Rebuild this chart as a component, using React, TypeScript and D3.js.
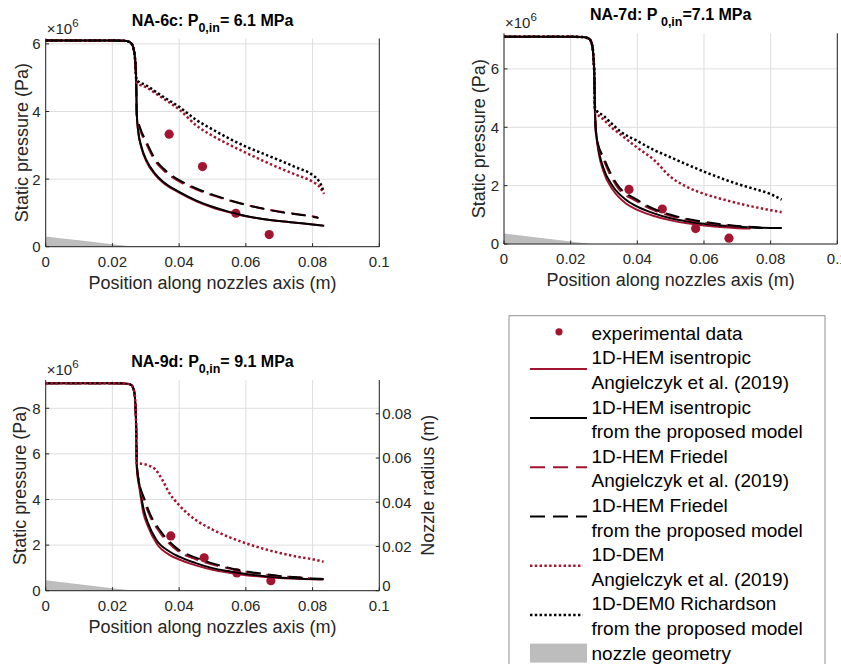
import React from 'react';
import * as d3 from 'd3';

const RED = '#a2142f';
const INK = '#262626';
const GRID = '#dedede';
const GEOM = '#bdbdbd';
const FONT = '"Liberation Sans", Arial, Helvetica, sans-serif';

const xTicks = [0, 0.02, 0.04, 0.06, 0.08, 0.1];
const xTickLabels = ['0', '0.02', '0.04', '0.06', '0.08', '0.1'];
const radiusTicks = [0, 0.02, 0.04, 0.06, 0.08];
const radiusTickLabels = ['0', '0.02', '0.04', '0.06', '0.08'];

// nozzle geometry, radius in m
const nozzleX = [0, 0.005, 0.01, 0.015, 0.02, 0.024, 0.026, 0.0272, 0.0835];
const nozzleR = [0.0047, 0.0038, 0.0029, 0.002, 0.0011, 0.0004, 0.0001, 0.00005, 0.0001];

// ---- NA-6c (pressure in MPa) ----
const na6ExpX = [0.037, 0.047, 0.057, 0.067];
const na6ExpP = [3.33, 2.37, 0.99, 0.36];
const na6Head = [[0, 6.1], [0.02, 6.1], [0.0235, 6.09], [0.025, 6.06], [0.0258, 6.0], [0.0263, 5.88], [0.0267, 5.65], [0.0269, 5.4], [0.0271, 5.0]];
const na6HemRed = [[0.0273, 3.93], [0.0277, 3.42], [0.0287, 2.92], [0.0302, 2.52], [0.0327, 2.14], [0.0352, 1.89], [0.04, 1.6], [0.045, 1.35], [0.05, 1.16], [0.055, 1.02], [0.06, 0.9], [0.065, 0.82], [0.07, 0.76], [0.075, 0.71], [0.08, 0.66], [0.083, 0.63]];
const na6HemBlack = [[0.0273, 3.95], [0.0277, 3.45], [0.0287, 2.96], [0.0302, 2.56], [0.0327, 2.17], [0.0352, 1.92], [0.04, 1.62], [0.045, 1.37], [0.05, 1.18], [0.055, 1.03], [0.06, 0.91], [0.065, 0.82], [0.07, 0.76], [0.075, 0.71], [0.08, 0.66], [0.0835, 0.62]];
const na6FriRed = [[0.0273, 3.88], [0.0282, 3.5], [0.0302, 3.04], [0.0327, 2.55], [0.0352, 2.27], [0.04, 1.93], [0.045, 1.7], [0.05, 1.52], [0.055, 1.37], [0.06, 1.24], [0.065, 1.13], [0.07, 1.04], [0.075, 0.97], [0.08, 0.9], [0.0815, 0.87]];
const na6FriBlack = [[0.0273, 3.9], [0.0282, 3.55], [0.0302, 3.1], [0.0327, 2.61], [0.0352, 2.32], [0.04, 1.97], [0.045, 1.73], [0.05, 1.54], [0.055, 1.38], [0.06, 1.24], [0.065, 1.13], [0.07, 1.03], [0.075, 0.96], [0.08, 0.89], [0.0818, 0.85]];
const na6DemRed = [[0.0273, 4.85], [0.03, 4.72], [0.035, 4.4], [0.04, 4.06], [0.045, 3.6], [0.05, 3.28], [0.055, 3.02], [0.06, 2.78], [0.065, 2.55], [0.07, 2.33], [0.075, 2.13], [0.08, 1.92], [0.0822, 1.76], [0.0834, 1.56]];
const na6DemBlack = [[0.0273, 4.93], [0.03, 4.78], [0.035, 4.45], [0.04, 4.14], [0.045, 3.76], [0.05, 3.47], [0.055, 3.2], [0.06, 2.96], [0.065, 2.76], [0.07, 2.56], [0.075, 2.35], [0.08, 2.12], [0.0817, 1.97], [0.0826, 1.82], [0.0834, 1.6]];

// ---- NA-7d ----
const na7ExpX = [0.0375, 0.0475, 0.0575, 0.0675];
const na7ExpP = [1.87, 1.2, 0.53, 0.2];
const na7Head = [[0, 7.1], [0.02, 7.1], [0.0235, 7.09], [0.025, 7.06], [0.0258, 7.0], [0.0263, 6.88], [0.0267, 6.62], [0.0269, 6.3], [0.0271, 5.8]];
const na7HemRed = [[0.0273, 4.55], [0.0276, 3.9], [0.0283, 3.2], [0.0298, 2.5], [0.0327, 1.85], [0.0367, 1.38], [0.04, 1.17], [0.045, 0.96], [0.05, 0.81], [0.055, 0.71], [0.06, 0.63], [0.065, 0.58], [0.07, 0.54], [0.074, 0.53]];
const na7HemBlack = [[0.0273, 4.6], [0.0275, 4.02], [0.0282, 3.34], [0.0297, 2.65], [0.0327, 1.97], [0.0367, 1.51], [0.04, 1.28], [0.045, 1.05], [0.05, 0.88], [0.055, 0.77], [0.06, 0.69], [0.065, 0.63], [0.07, 0.59], [0.075, 0.56], [0.08, 0.55], [0.0833, 0.55]];
const na7FriRed = [[0.0273, 4.45], [0.0278, 3.6], [0.0302, 2.8], [0.0337, 2.0], [0.04, 1.45], [0.045, 1.15], [0.05, 0.96], [0.055, 0.83], [0.06, 0.73], [0.065, 0.66], [0.07, 0.6], [0.074, 0.56]];
const na7FriBlack = [[0.0273, 4.5], [0.0277, 3.68], [0.0302, 2.88], [0.0337, 2.08], [0.04, 1.51], [0.045, 1.2], [0.05, 1.0], [0.055, 0.86], [0.06, 0.76], [0.065, 0.68], [0.07, 0.62], [0.075, 0.58], [0.08, 0.55], [0.0833, 0.55]];
const na7DemRed = [[0.0273, 4.59], [0.03, 4.25], [0.0327, 3.95], [0.035, 3.75], [0.04, 3.3], [0.045, 2.88], [0.05, 2.3], [0.055, 1.95], [0.06, 1.72], [0.065, 1.55], [0.07, 1.4], [0.075, 1.27], [0.08, 1.16], [0.0833, 1.09]];
const na7DemBlack = [[0.0273, 4.65], [0.03, 4.38], [0.0327, 4.08], [0.035, 3.85], [0.04, 3.53], [0.045, 3.22], [0.05, 2.97], [0.055, 2.72], [0.06, 2.48], [0.065, 2.26], [0.07, 2.06], [0.075, 1.89], [0.08, 1.71], [0.0833, 1.52]];

// ---- NA-9d ----
const na9ExpX = [0.0375, 0.0475, 0.0573, 0.0675];
const na9ExpP = [2.4, 1.44, 0.78, 0.44];
const na9Head = [[0, 9.1], [0.02, 9.1], [0.0235, 9.09], [0.025, 9.06], [0.0258, 9.0], [0.0263, 8.86], [0.0267, 8.55], [0.0269, 8.1], [0.0271, 7.3]];
const na9HemRed = [[0.0273, 5.4], [0.0282, 4.4], [0.0292, 3.46], [0.0307, 2.81], [0.0332, 2.08], [0.0372, 1.56], [0.04, 1.37], [0.045, 1.11], [0.05, 0.92], [0.055, 0.79], [0.06, 0.68], [0.065, 0.61], [0.07, 0.56], [0.075, 0.53], [0.08, 0.5], [0.083, 0.49]];
const na9HemBlack = [[0.0273, 5.5], [0.0282, 4.56], [0.0292, 3.68], [0.0307, 2.95], [0.0332, 2.22], [0.0372, 1.71], [0.04, 1.49], [0.045, 1.21], [0.05, 0.99], [0.055, 0.85], [0.06, 0.73], [0.065, 0.65], [0.07, 0.58], [0.075, 0.54], [0.08, 0.51], [0.0833, 0.5]];
const na9FriRed = [[0.0273, 5.5], [0.0278, 4.85], [0.0297, 3.85], [0.0312, 3.28], [0.0342, 2.56], [0.04, 1.7], [0.045, 1.38], [0.05, 1.15], [0.055, 0.97], [0.06, 0.83], [0.065, 0.72], [0.07, 0.64], [0.075, 0.59], [0.079, 0.56]];
const na9FriBlack = [[0.0273, 5.6], [0.0277, 5.0], [0.0297, 3.98], [0.0312, 3.39], [0.0342, 2.66], [0.04, 1.78], [0.045, 1.45], [0.05, 1.2], [0.055, 1.0], [0.06, 0.85], [0.065, 0.74], [0.07, 0.65], [0.075, 0.59], [0.08, 0.54], [0.0833, 0.51]];
const na9DemRed = [[0.0272, 5.6], [0.029, 5.56], [0.031, 5.48], [0.033, 5.3], [0.035, 4.85], [0.037, 4.3], [0.04, 3.75], [0.045, 3.1], [0.05, 2.68], [0.055, 2.35], [0.06, 2.08], [0.065, 1.85], [0.07, 1.66], [0.075, 1.5], [0.08, 1.38], [0.0833, 1.27]];

const legendLabels = [
    ['experimental data'],
    ['1D-HEM isentropic', 'Angielczyk et al. (2019)'],
    ['1D-HEM isentropic', 'from the proposed model'],
    ['1D-HEM Friedel', 'Angielczyk et al. (2019)'],
    ['1D-HEM Friedel', 'from the proposed model'],
    ['1D-DEM', 'Angielczyk et al. (2019)'],
    ['1D-DEM0 Richardson', 'from the proposed model'],
    ['nozzle geometry'],
];

const DASH = '14 7';
const DOT = '2.4 2.4';

const styles = [
    { stroke: RED, dash: undefined, width: 2 },
    { stroke: '#000', dash: undefined, width: 2 },
    { stroke: RED, dash: DASH, width: 2 },
    { stroke: '#000', dash: DASH, width: 2 },
    { stroke: RED, dash: DOT, width: 2.5 },
    { stroke: '#000', dash: DOT, width: 2.5 },
];

const panels = [
    {
        name: 'NA-6c: P', sub: '0,in', rest: '= 6.1 MPa',
        left: 45.7, right: 379.3, top: 38.5, bottom: 246.7, yMax: 6.16,
        yTicks: [0, 2, 4, 6], yLabelX: 28, rightAxis: false,
        head: na6Head, curves: [na6HemRed, na6HemBlack, na6FriRed, na6FriBlack, na6DemRed, na6DemBlack],
        expX: na6ExpX, expP: na6ExpP,
    },
    {
        name: 'NA-7d: P', sub: ' 0,in', rest: '=7.1 MPa',
        left: 504, right: 837.3, top: 33.3, bottom: 244, yMax: 7.22,
        yTicks: [0, 2, 4, 6], yLabelX: 485, rightAxis: false,
        head: na7Head, curves: [na7HemRed, na7HemBlack, na7FriRed, na7FriBlack, na7DemRed, na7DemBlack],
        expX: na7ExpX, expP: na7ExpP,
    },
    {
        name: 'NA-9d: P', sub: '0,in', rest: '= 9.1 MPa',
        left: 45.7, right: 379.3, top: 380, bottom: 590.7, yMax: 9.24,
        yTicks: [0, 2, 4, 6, 8], yLabelX: 26, rightAxis: true,
        head: na9Head, curves: [na9HemRed, na9HemBlack, na9FriRed, na9FriBlack, na9DemRed, null],
        expX: na9ExpX, expP: na9ExpP,
    },
];

function Panel({ p }) {
    const x = d3.scaleLinear().domain([0, 0.1]).range([p.left, p.right]);
    const y = d3.scaleLinear().domain([0, p.yMax]).range([p.bottom, p.top]);
    const yR = d3.scaleLinear().domain([0, 0.0953]).range([p.bottom, p.top]);

    const line = d3.line().x((d) => x(d[0])).y((d) => y(d[1])).curve(d3.curveMonotoneX);
    const area = d3.area().x((d) => x(d[0])).y0(p.bottom).y1((d) => yR(d[1]));
    const geom = nozzleX.map((v, i) => [v, nozzleR[i]]);
    const cx = (p.left + p.right) / 2;
    const cy = (p.top + p.bottom) / 2;

    return (
        <g fontFamily={FONT}>
            {xTicks.map((v, i) =>
                <line key={`gx${i}`} x1={x(v)} x2={x(v)} y1={p.top} y2={p.bottom} stroke={GRID} />
            )}
            {p.yTicks.map((v, i) =>
                <line key={`gy${i}`} x1={p.left} x2={p.right} y1={y(v)} y2={y(v)} stroke={GRID} />
            )}
            <path d={area(geom)} fill={GEOM} />
            {p.expX.map((v, i) =>
                <circle key={`e${i}`} cx={x(v)} cy={y(p.expP[i])} r={4.6} fill={RED} />
            )}
            {p.curves.map((c, i) => c &&
                <path key={`c${i}`} d={line(p.head.concat(c))} fill="none" stroke={styles[i].stroke}
                    strokeWidth={styles[i].width} strokeDasharray={styles[i].dash} />
            )}
            {/* axes */}
            <line x1={p.left} x2={p.right} y1={p.bottom} y2={p.bottom} stroke={INK} />
            <line x1={p.left} x2={p.left} y1={p.top} y2={p.bottom} stroke={INK} />
            <line x1={p.right} x2={p.right} y1={p.top} y2={p.bottom} stroke={INK} />
            {xTicks.map((v, i) =>
                <g key={`tx${i}`}>
                    <line x1={x(v)} x2={x(v)} y1={p.bottom} y2={p.bottom - 3.5} stroke={INK} />
                    <text x={x(v)} y={p.bottom + 20} textAnchor="middle" fontSize={15} fill={INK}>{xTickLabels[i]}</text>
                </g>
            )}
            {p.yTicks.map((v, i) =>
                <g key={`ty${i}`}>
                    <line x1={p.left} x2={p.left + 3.5} y1={y(v)} y2={y(v)} stroke={INK} />
                    <text x={p.left - 5} y={y(v)} dy="0.36em" textAnchor="end" fontSize={15} fill={INK}>{v}</text>
                </g>
            )}
            {p.rightAxis && radiusTicks.map((v, i) =>
                <g key={`tr${i}`}>
                    <line x1={p.right} x2={p.right - 3.5} y1={yR(v)} y2={yR(v)} stroke={INK} />
                    <text x={p.right + 3} y={yR(v) - (v === 0 ? 5 : 0)} dy="0.36em" textAnchor="start" fontSize={15} fill={INK}>{radiusTickLabels[i]}</text>
                </g>
            )}
            <text x={p.left + 1} y={p.top - 5} fontSize={15} fill={INK}>
                <tspan>{'\u00d710'}</tspan>
                <tspan dy={-7} fontSize={11.5}>6</tspan>
            </text>
            <text x={cx} y={p.bottom + 42} textAnchor="middle" fontSize={18} fill={INK}>Position along nozzles axis (m)</text>
            <text transform={`translate(${p.yLabelX}, ${cy}) rotate(-90)`} textAnchor="middle" fontSize={18} fill={INK}>Static pressure (Pa)</text>
            {p.rightAxis &&
                <text transform={`translate(${p.right + 55}, ${cy}) rotate(-90)`} textAnchor="middle" fontSize={18} fill={INK}>Nozzle radius (m)</text>
            }
            <text x={cx} y={p.top - 13} textAnchor="middle" fontSize={16} fontWeight="bold" fill="#000">
                <tspan>{p.name}</tspan>
                <tspan dy={6} fontSize={12.5}>{p.sub}</tspan>
                <tspan dy={-6}>{p.rest}</tspan>
            </text>
        </g>
    );
}

function Legend({ x0, y0 }) {
    const rowH = 24.6;
    const sx1 = 530, sx2 = 587, tx = 591.5;
    let row = 0;
    const items = legendLabels.map((lines, i) => {
        const r = row;
        row += lines.length;
        const rowC = y0 + 17.6 + r * rowH;
        const sy = lines.length > 1 ? rowC + 11 : rowC;
        let sample;
        if (i === 0) {
            sample = <circle cx={559} cy={sy - 1.5} r={3.6} fill={RED} />;
        } else if (i === legendLabels.length - 1) {
            sample = <rect x={sx1} y={sy - 9.5} width={sx2 - sx1} height={19} fill={GEOM} />;
        } else {
            const s = styles[i - 1];
            sample = <line x1={sx1} x2={s.dash === DOT ? sx2 - 4 : sx2} y1={sy} y2={sy} stroke={s.stroke} strokeWidth={s.width}
                strokeDasharray={s.dash === DASH ? '15 8' : s.dash} />;
        }
        return (
            <g key={`l${i}`}>
                {sample}
                {lines.map((t, j) =>
                    <text key={j} x={tx} y={rowC + (j * rowH) + 6.5} fontSize={19} fill="#000">{t}</text>
                )}
            </g>
        );
    });
    return (
        <g fontFamily={FONT}>
            <rect x={x0} y={y0} width={316} height={360} fill="#fff" stroke="#8f8f8f" />
            {items}
        </g>
    );
}

export default function App() {
    return (
        <svg width={841} height={664} xmlns="http://www.w3.org/2000/svg"
            style={{ position: 'absolute', left: 0, top: 0, background: '#fff' }}>
            <rect width={841} height={664} fill="#fff" />
            {panels.map((p, i) => <Panel key={`p${i}`} p={p} />)}
            <Legend x0={509} y0={315.7} />
        </svg>
    );
}
